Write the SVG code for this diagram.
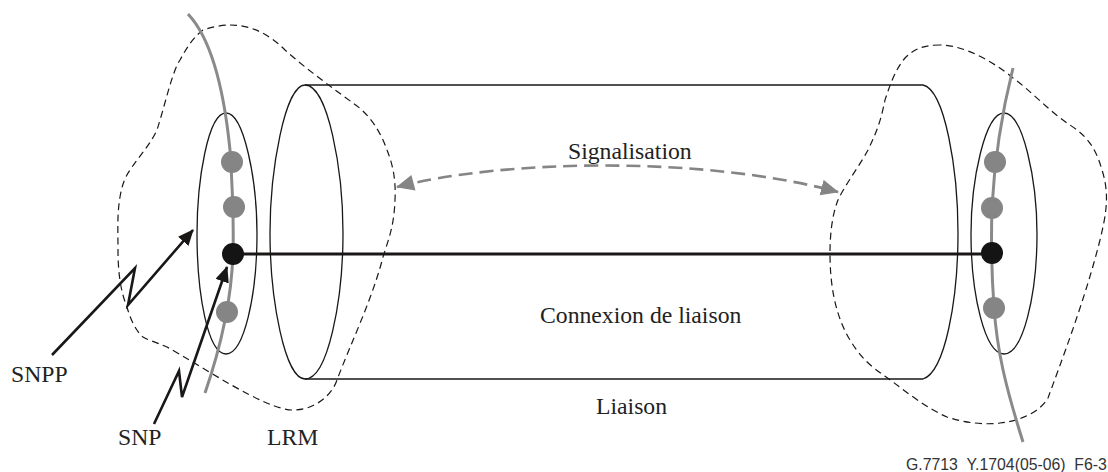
<svg xmlns="http://www.w3.org/2000/svg" width="1108" height="472" viewBox="0 0 1108 472">
<style>
.t{font-family:"Liberation Serif",serif;font-size:23.7px;fill:#222}
.thin{fill:none;stroke:#1a1717;stroke-width:1.3}
.dash{fill:none;stroke:#1a1717;stroke-width:1.2;stroke-dasharray:7 4.5}
.g{fill:none;stroke:#8a8a8a;stroke-width:3}
.gd{fill:#858585}
.kd{fill:#141414}
.zig{fill:none;stroke:#1a1717;stroke-width:2.6;marker-end:url(#ka)}
</style>
<defs>
<marker id="ka" markerUnits="userSpaceOnUse" markerWidth="18" markerHeight="16" refX="15" refY="7" orient="auto"><path d="M0,0L16,7L0,14Z" fill="#1a1717"/></marker>
<marker id="ga" markerUnits="userSpaceOnUse" markerWidth="20" markerHeight="18" refX="17" refY="8" orient="auto"><path d="M0,0L18,8L0,16Z" fill="#858585"/></marker>
<marker id="gb" markerUnits="userSpaceOnUse" markerWidth="20" markerHeight="18" refX="1" refY="8" orient="auto"><path d="M18,0L0,8L18,16Z" fill="#858585"/></marker>
</defs>
<g id="link">
<path class="thin" d="M305,85H923C945,90 958,170 958,233C958,300 945,372 923,379H305"/>
<path class="thin" d="M305,85C285,85 270,170 270,233C270,300 285,379 305,379C328,379 343,300 343,233C343,170 328,85 305,85Z"/>
</g>
<g id="lrm-left">
<path class="dash" d="M230,25C250,25 268,33 285,50C305,68 335,90 353,103C368,113 380,130 387,150C393,165 396,180 395,200C394,225 390,235 383,257C372,300 350,345 337,380C332,395 315,410 293,410C265,410 200,365 167,347C155,342 148,340 143,337C135,330 130,318 127,307C120,290 118,270 118,250C118,230 117,215 120,197C122,185 125,177 130,170C140,155 150,145 157,130C165,105 172,72 180,60C188,45 195,36 203,30C212,27 222,25 230,25Z"/>
</g>
<g id="lrm-right">
<path class="dash" d="M940,45C925,45 915,48 905,58C895,70 890,85 885,100C880,125 875,135 868,150C860,165 845,185 838,200C832,215 830,235 830,253C830,285 835,315 850,340C865,365 880,372 893,382C910,395 930,410 947,417C965,423 985,425 1000,423C1020,421 1040,412 1048,398C1060,365 1085,300 1100,240C1106,215 1110,195 1102,170C1095,145 1085,135 1070,125C1050,112 1030,90 1013,78C995,63 965,45 940,45Z"/>
</g>
<g id="snpp-left">
<path class="thin" d="M226,113C208,113 197,180 197,234C197,295 208,354 226,354C244,354 257,295 257,234C257,180 244,113 226,113Z"/>
<path class="g" d="M188,14C205,32 222,70 230,150C232,180 234,215 233,253C232,285 225,335 205,393"/>
<circle class="gd" cx="232" cy="162" r="11"/>
<circle class="gd" cx="234" cy="207" r="11"/>
<circle class="gd" cx="227" cy="312" r="11"/>
</g>
<g id="snpp-right">
<path class="thin" d="M1004,113C985,113 971,180 971,234C971,295 985,354 1004,354C1023,354 1037,295 1037,234C1037,180 1023,113 1004,113Z"/>
<path class="g" d="M1013,68C1005,100 995,150 992,207C991,240 992,280 994,307C997,350 1005,385 1023,442"/>
<circle class="gd" cx="995" cy="162" r="11"/>
<circle class="gd" cx="992" cy="208" r="11"/>
<circle class="gd" cx="994" cy="308" r="11"/>
</g>
<g id="connectors">
<path d="M235,254H992" fill="none" stroke="#1a1717" stroke-width="3"/>
<path d="M397,187C500,160 700,155 838,192" fill="none" stroke="#858585" stroke-width="2.6" stroke-dasharray="14 7" marker-start="url(#gb)" marker-end="url(#ga)"/>
<path class="zig" d="M52,355L135,268L128,305L193,230"/>
<path class="zig" d="M154,424L179,371L182,397L227,267"/>
</g>
<g id="snp-left"><circle class="kd" cx="233" cy="254" r="11"/></g>
<g id="snp-right"><circle class="kd" cx="992" cy="253" r="11"/></g>
<g id="labels">
<text class="t" x="568" y="159">Signalisation</text>
<text class="t" x="540" y="323">Connexion de liaison</text>
<text class="t" x="596" y="414">Liaison</text>
<text class="t" x="11" y="382">SNPP</text>
<text class="t" x="118" y="445">SNP</text>
<text class="t" x="267" y="445">LRM</text>
<text x="906" y="470" font-family="Liberation Sans,sans-serif" font-size="15.8" fill="#333">G.7713_Y.1704(05-06)_F6-3</text>
</g>
</svg>
